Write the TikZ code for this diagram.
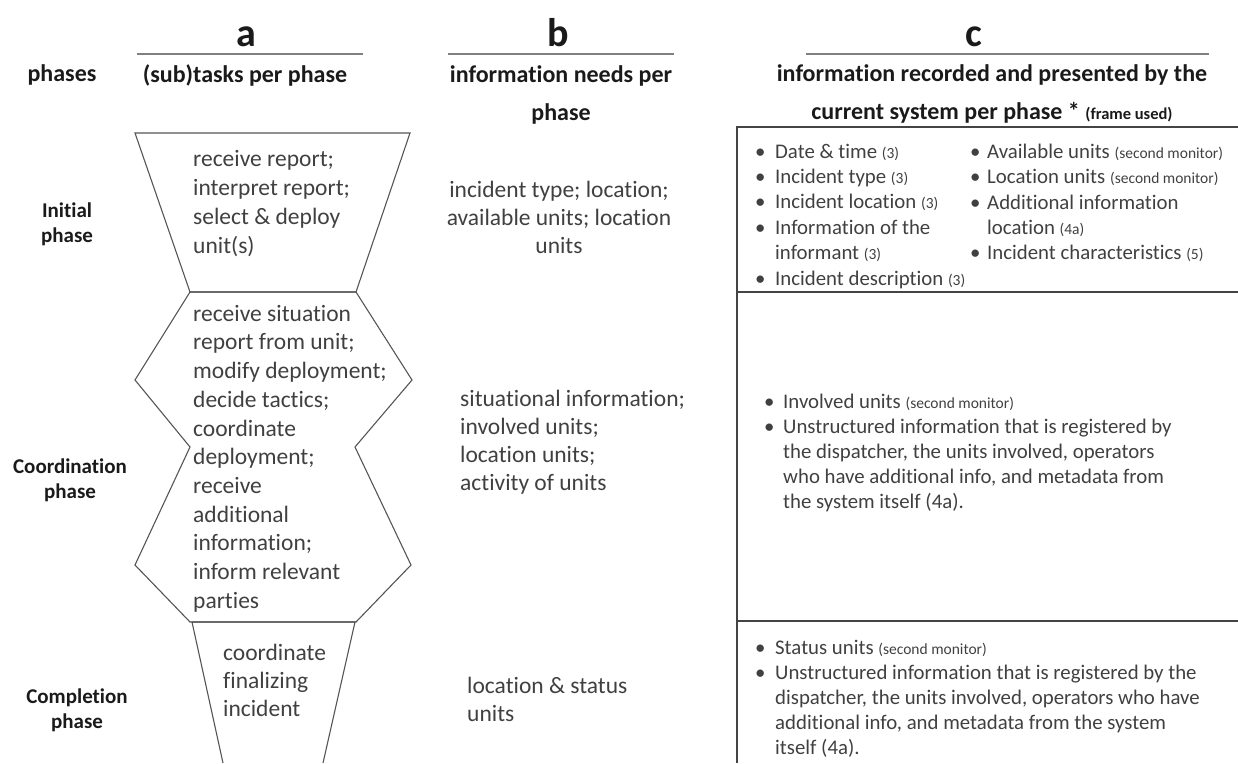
\documentclass[tikz,border=0pt]{standalone}
\usepackage{fontspec}
\setmainfont{Carlito}[Ligatures={NoCommon,NoContextual}, Contextuals={NoAlternate}]
\usepackage{array}
\definecolor{txt}{HTML}{404040}
\definecolor{ink}{HTML}{1A1A1A}
\definecolor{rulegray}{HTML}{555555}
\newcommand{\smallnote}[1]{{\fontsize{15.5}{17}\selectfont #1}}

\begin{document}
\begin{tikzpicture}
        [
            x = 1pt, y = -1pt,
            letter/.style = {font=\fontsize{40}{40}\selectfont\bfseries, text=ink, anchor=base, inner sep=0},
            hdr/.style = {font=\fontsize{24}{38}\selectfont\bfseries, text=ink, align=center, inner sep=0},
            phaselbl/.style = {font=\fontsize{21}{25}\selectfont\bfseries, text=ink, align=center, inner sep=0},
            task/.style = {font=\fontsize{23.5}{28.7}\selectfont, text=txt, align=left, anchor=west, inner sep=0},
            need/.style = {font=\fontsize{23.5}{28}\selectfont, text=txt, inner sep=0},
            rec/.style = {font=\fontsize{20.8}{25.4}\selectfont, text=txt, anchor=west, inner sep=0},
            headrule/.style = {draw=gray, line width=1.5pt},
            funnel/.style = {draw=rulegray, line width=1.1pt, line join=miter},
            boxrule/.style = {draw=rulegray!80!black, line width=1.8pt}
        ]
        \useasboundingbox (0,0) rectangle (1238,763);

        % column heads
        \node[letter] (letA) at (246,46) {a};
        \node[letter] (letB) at (558,46) {b};
        \node[letter] (letC) at (974,46) {c};
        \draw[headrule] (137,54) -- (363,54);
        \draw[headrule] (448,54) -- (674,54);
        \draw[headrule] (806,54) -- (1209,54);
        \node[hdr] (hdPhases) at (62,75) {phases};
        \node[hdr] (hdTasks) at (245,75) {(sub)tasks per phase};
        \node[hdr] (hdNeeds) at (561,95) {information needs per\\phase};
        \node[hdr] (hdRec) at (992,94) {information recorded and presented by the\\current system per phase * {\fontsize{16.5}{18}\selectfont(frame used)}};

        % phases
        \node[phaselbl] (phInit) at (67,224.5) {Initial\\phase};
        \node[phaselbl] (phCoord) at (70,480) {Coordination\\phase};
        \node[phaselbl] (phCompl) at (77,710.5) {Completion\\phase};

        % (sub)tasks funnel
        \draw[funnel] (135,133) -- (410,133) -- (356,292) -- (190,292) -- cycle;
        \draw[funnel] (190,292) -- (356,292) -- (412,380) -- (355,447) -- (411,565) -- (356,622)
            -- (190,622) -- (135,565) -- (190,447) -- (135,380) -- cycle;
        \draw[funnel] (223,763) -- (192,622) -- (355,622) -- (323,763);
        \node[task] (taskInit) at (193,203.5) {receive report;\\interpret report;\\select \& deploy\\unit(s)};
        \node[task] (taskCoord) at (193,458.5) {receive situation\\report from unit;\\modify deployment;\\decide tactics;\\coordinate\\deployment;\\receive\\additional\\information;\\inform relevant\\parties};
        \node[task, font=\fontsize{23.5}{28}\selectfont] (taskCompl) at (223,680) {coordinate\\finalizing\\incident};

        % information needs
        \node[need, align=center] (needInit) at (559,217.5) {incident type; location;\\available units; location\\units};
        \node[need, align=left, anchor=west] (needCoord) at (460,442.5) {situational information;\\involved units;\\location units;\\activity of units};
        \node[need, align=left, anchor=west] (needCompl) at (467,699.5) {location \& status\\units};

        % recorded information
        \draw[boxrule] (1238,127) -- (737,127) -- (737,763);
        \draw[boxrule] (737,292) -- (1238,292);
        \draw[boxrule] (737,621) -- (1238,621);
        \node[rec] (recInitL) at (755,216.5) {\begin{tabular}{@{}p{20pt}@{}l@{}}
            \textbullet & Date \& time \smallnote{(3)}\\
            \textbullet & Incident type \smallnote{(3)}\\
            \textbullet & Incident location \smallnote{(3)}\\
            \textbullet & Information of the\\
                        & informant \smallnote{(3)}\\
            \textbullet & Incident description \smallnote{(3)}
        \end{tabular}};
        \node[rec] (recInitR) at (970,204) {\begin{tabular}{@{}p{17pt}@{}l@{}}
            \textbullet & Available units \smallnote{(second monitor)}\\
            \textbullet & Location units \smallnote{(second monitor)}\\
            \textbullet & Additional information\\
                        & location \smallnote{(4a)}\\
            \textbullet & Incident characteristics \smallnote{(5)}
        \end{tabular}};
        \node[rec, font=\fontsize{20.8}{25}\selectfont] (recCoord) at (764,453.5) {\begin{tabular}{@{}p{19pt}@{}l@{}}
            \textbullet & Involved units \smallnote{(second monitor)}\\
            \textbullet & Unstructured information that is registered by\\
                        & the dispatcher, the units involved, operators\\
                        & who have additional info, and metadata from\\
                        & the system itself (4a).
        \end{tabular}};
        \node[rec, font=\fontsize{20.8}{25}\selectfont] (recCompl) at (755,699.5) {\begin{tabular}{@{}p{20pt}@{}l@{}}
            \textbullet & Status units \smallnote{(second monitor)}\\
            \textbullet & Unstructured information that is registered by the\\
                        & dispatcher, the units involved, operators who have\\
                        & additional info, and metadata from the system\\
                        & itself (4a).
        \end{tabular}};
    \end{tikzpicture}
\end{document}
